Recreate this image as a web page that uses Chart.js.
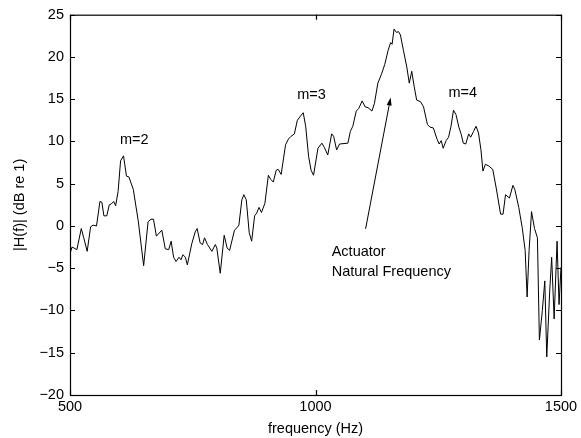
<!DOCTYPE html>
<html>
<head>
<meta charset="utf-8">
<script src="https://cdn.jsdelivr.net/npm/chart.js@4.4.1/dist/chart.umd.min.js"></script>
<style>
  body { margin: 0; background: #fff; }
  canvas { display: block; }
</style>
</head>
<body>
<canvas id="grafic" width="581" height="438"></canvas>
<script>
// frequency axis (Hz) and measured response (dB re 1)
const frecvente = [
  500, 504, 508, 514, 523, 528, 535, 542, 547, 554, 561, 565, 569, 575, 580, 584, 589, 593, 598,
  603, 609, 615, 620, 629, 639, 650, 659, 665, 670, 676, 687, 694, 701, 706, 711, 716, 722, 726,
  730, 735, 739, 748, 755, 759, 765, 770, 774, 780, 789, 796, 799, 806, 814, 820, 825, 835, 840,
  844, 850, 854, 859, 865, 870, 876, 880, 885, 890, 897, 904, 909, 914, 920, 924, 930, 939, 945,
  950, 957, 963, 968, 975, 980, 986, 991, 996, 1005, 1013, 1018, 1025, 1033, 1037, 1043, 1049,
  1066, 1071, 1076, 1083, 1088, 1095, 1101, 1107, 1115, 1120, 1127, 1134, 1141, 1148, 1153, 1156,
  1160, 1165, 1169, 1173, 1179, 1186, 1191, 1196, 1201, 1206, 1214, 1220, 1228, 1233, 1240, 1248,
  1252, 1256, 1260, 1266, 1271, 1276, 1281, 1286, 1292, 1297, 1301, 1306, 1312, 1316, 1322, 1327,
  1332, 1337, 1341, 1346, 1353, 1361, 1368, 1377, 1382, 1387, 1395, 1402, 1406, 1414, 1421, 1427,
  1431, 1435, 1440, 1446, 1452, 1456, 1462, 1467, 1471, 1477, 1481, 1486, 1492, 1496, 1500
];
const raspuns = [
  -3.3, -2.5, -2.6, -2.8, -0.3, -1.4, -3.0, -0.1, 0.1, 0.0, 2.9, 2.8, 1.2, 1.2, 2.5, 2.6, 2.9, 2.4, 4.1,
  7.7, 8.3, 5.9, 5.8, 4.3, 0.6, -4.7, 0.5, 0.8, 0.8, -1.2, -0.5, -2.7, -2.8, -1.8, -3.7, -4.2, -3.7, -4.0,
  -3.4, -3.7, -4.6, -2.1, -0.7, -0.3, -2.0, -2.2, -1.4, -2.2, -3.0, -2.2, -2.6, -5.6, -1.1, -2.6, -2.9, -0.5, -0.2,
  0.1, 3.1, 3.7, 3.1, -0.8, -1.8, 1.2, 1.5, 2.2, 1.6, 2.7, 6.0, 5.5, 5.2, 6.6, 6.7, 6.1, 9.6, 10.3,
  10.6, 10.9, 12.5, 12.9, 13.4, 11.8, 8.2, 6.6, 6.0, 9.2, 9.8, 9.3, 8.4, 10.9, 10.6, 9.0, 9.7,
  9.8, 11.2, 11.8, 13.6, 13.9, 14.8, 14.1, 14.0, 13.6, 14.5, 16.9, 17.9, 19.1, 20.8, 21.7, 21.5,
  23.3, 22.9, 23.0, 22.6, 20.8, 18.8, 16.9, 18.3, 16.5, 14.9, 14.7, 14.1, 12.0, 11.7, 11.6, 10.2,
  9.7, 10.1, 9.2, 10.1, 10.5, 11.8, 13.7, 13.2, 11.7, 10.8, 9.8, 9.7, 10.9, 10.5, 11.2, 11.8,
  11.0, 9.0, 6.5, 7.3, 7.1, 6.7, 4.5, 1.4, 1.4, 3.7, 3.3, 4.8, 4.3, 2.2, -0.2, -2.9,
  -8.4, -2.9, 1.7, -0.3, -1.4, -13.5, -10.0, -6.5, -15.5, -7.7, -3.7, -11.0, -1.8, -9.3, -4.9
];

// mode labels, placed in data units
const etichete = ["m=2", "m=3", "m=4"];
const etichetaX = [631, 992, 1300];
const etichetaY = [10.2, 15.5, 15.7];

// arrow pointing at the actuator resonance, with its two-line caption
const sageataDe = [1102, -0.35];
const sageataLa = [1153, 15.2];
const textActuator = ["Actuator", "Natural Frequency"];
const textActuatorX = 1033;
const textActuatorY = [-3.06, -5.4];

const FONT = "'Liberation Sans', Arial, Helvetica, sans-serif";
const MARIME = 14.5;

const puncte = frecvente.map((f, i) => ({ x: f, y: raspuns[i] }));

function minus(v) {
  return String(v).replace("-", "\u2212");
}

// box around the plot plus inward ticks on all four sides
const cadru = {
  id: "cadru",
  afterDraw(chart) {
    const ctx = chart.ctx;
    const a = chart.chartArea;
    const sx = chart.scales.x;
    const sy = chart.scales.y;
    const lung = 5;

    ctx.save();
    ctx.strokeStyle = "#000";
    ctx.lineWidth = 1.2;
    ctx.strokeRect(a.left + 0.5, a.top + 0.5, a.right - a.left, a.bottom - a.top);

    ctx.beginPath();
    sx.ticks.forEach(t => {
      const px = Math.round(sx.getPixelForValue(t.value)) + 0.5;
      ctx.moveTo(px, a.bottom); ctx.lineTo(px, a.bottom - lung);
      ctx.moveTo(px, a.top); ctx.lineTo(px, a.top + lung);
    });
    sy.ticks.forEach(t => {
      const py = Math.round(sy.getPixelForValue(t.value)) + 0.5;
      ctx.moveTo(a.left, py); ctx.lineTo(a.left + lung, py);
      ctx.moveTo(a.right, py); ctx.lineTo(a.right - lung, py);
    });
    ctx.stroke();

    ctx.lineWidth = 1;
    ctx.fillStyle = "#000";
    ctx.font = MARIME + "px " + FONT;
    ctx.textAlign = "center";
    ctx.textBaseline = "middle";
    etichete.forEach((txt, i) => {
      ctx.fillText(txt, sx.getPixelForValue(etichetaX[i]), sy.getPixelForValue(etichetaY[i]));
    });

    ctx.textAlign = "left";
    textActuator.forEach((txt, i) => {
      ctx.fillText(txt, sx.getPixelForValue(textActuatorX), sy.getPixelForValue(textActuatorY[i]));
    });

    // arrow
    const x0 = sx.getPixelForValue(sageataDe[0]);
    const y0 = sy.getPixelForValue(sageataDe[1]);
    const x1 = sx.getPixelForValue(sageataLa[0]);
    const y1 = sy.getPixelForValue(sageataLa[1]);
    const ang = Math.atan2(y1 - y0, x1 - x0);
    const cap = 8, lat = 2.5;
    const bx = x1 - cap * Math.cos(ang);
    const by = y1 - cap * Math.sin(ang);
    ctx.beginPath();
    ctx.moveTo(x0, y0);
    ctx.lineTo(bx, by);
    ctx.stroke();
    ctx.beginPath();
    ctx.moveTo(x1, y1);
    ctx.lineTo(bx + lat * Math.sin(ang), by - lat * Math.cos(ang));
    ctx.lineTo(bx - lat * Math.sin(ang), by + lat * Math.cos(ang));
    ctx.closePath();
    ctx.fill();
    ctx.restore();
  }
};

const ctx = document.getElementById("grafic").getContext("2d");
new Chart(ctx, {
  type: "line",
  data: {
    datasets: [{
      data: puncte,
      borderColor: "#000",
      borderWidth: 1,
      pointRadius: 0,
      tension: 0,
      fill: false
    }]
  },
  options: {
    responsive: false,
    animation: false,
    layout: { padding: { top: 13, right: 20, left: 0, bottom: 0 } },
    plugins: { legend: { display: false }, tooltip: { enabled: false } },
    scales: {
      x: {
        type: "linear",
        min: 500,
        max: 1500,
        grid: { display: false, drawTicks: false },
        border: { display: false },
        ticks: {
          stepSize: 500,
          padding: 3,
          color: "#000",
          maxRotation: 0,
          font: { family: FONT, size: MARIME },
          callback: v => String(v)
        },
        title: {
          display: true,
          text: "frequency (Hz)",
          color: "#000",
          padding: { top: 2, bottom: 0 },
          font: { family: FONT, size: MARIME }
        },
        afterFit(s) { s.height = 43; }
      },
      y: {
        min: -20,
        max: 25,
        grid: { display: false, drawTicks: false },
        border: { display: false },
        ticks: {
          stepSize: 5,
          padding: 6,
          color: "#000",
          font: { family: FONT, size: MARIME },
          callback: v => minus(v)
        },
        title: {
          display: true,
          text: "|H(f)| (dB re 1)",
          color: "#000",
          padding: { top: 11, bottom: 0 },
          font: { family: FONT, size: MARIME }
        },
        afterFit(s) { s.width = 70; }
      }
    }
  },
  plugins: [cadru]
});
</script>
</body>
</html>
